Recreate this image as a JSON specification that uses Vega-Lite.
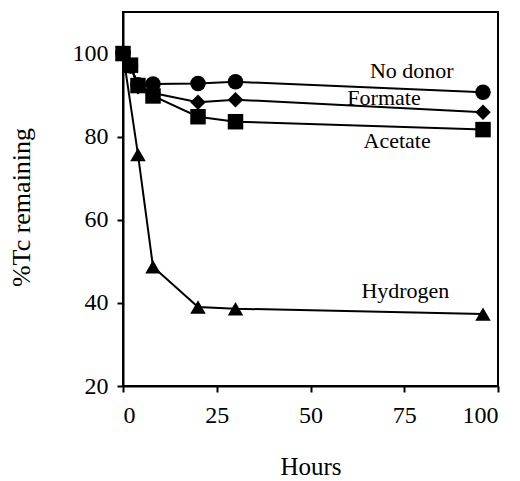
{
  "$schema": "https://vega.github.io/schema/vega-lite/v6.json",
  "width": 375,
  "height": 374,
  "autosize": "none",
  "padding": {"left": 123, "top": 12, "right": 22, "bottom": 95},
  "background": "white",
  "config": {
    "view": {"stroke": "black", "strokeWidth": 2},
    "font": "Liberation Serif",
    "axis": {
      "grid": false,
      "domainColor": "black",
      "domainWidth": 2,
      "tickColor": "black",
      "tickWidth": 2,
      "tickSize": 6,
      "labelFont": "Liberation Serif",
      "labelFontSize": 24,
      "labelColor": "black",
      "titleFont": "Liberation Serif",
      "titleFontWeight": "normal",
      "titleColor": "black"
    }
  },
  "datasets": {
    "series": [
      {"series": "No donor", "hours": 0, "pct": 100},
      {"series": "No donor", "hours": 2, "pct": 97},
      {"series": "No donor", "hours": 4, "pct": 92.5},
      {"series": "No donor", "hours": 8, "pct": 92.7},
      {"series": "No donor", "hours": 20, "pct": 92.8},
      {"series": "No donor", "hours": 30, "pct": 93.2},
      {"series": "No donor", "hours": 96, "pct": 90.7},
      {"series": "Formate", "hours": 0, "pct": 100},
      {"series": "Formate", "hours": 2, "pct": 97},
      {"series": "Formate", "hours": 4, "pct": 92},
      {"series": "Formate", "hours": 8, "pct": 90.5},
      {"series": "Formate", "hours": 20, "pct": 88.3},
      {"series": "Formate", "hours": 30, "pct": 88.9},
      {"series": "Formate", "hours": 96, "pct": 85.9},
      {"series": "Hydrogen", "hours": 0, "pct": 100},
      {"series": "Hydrogen", "hours": 4, "pct": 75.7},
      {"series": "Hydrogen", "hours": 8, "pct": 48.7},
      {"series": "Hydrogen", "hours": 20, "pct": 39},
      {"series": "Hydrogen", "hours": 30, "pct": 38.6},
      {"series": "Hydrogen", "hours": 96, "pct": 37.3},
      {"series": "Acetate", "hours": 0, "pct": 100},
      {"series": "Acetate", "hours": 2, "pct": 97.2},
      {"series": "Acetate", "hours": 4, "pct": 92.3},
      {"series": "Acetate", "hours": 8, "pct": 89.8},
      {"series": "Acetate", "hours": 20, "pct": 84.8},
      {"series": "Acetate", "hours": 30, "pct": 83.6},
      {"series": "Acetate", "hours": 96, "pct": 81.7}
    ],
    "labels": [
      {"label": "No donor", "hours": 77, "pct": 95.9},
      {"label": "Formate", "hours": 69.6, "pct": 89.2},
      {"label": "Acetate", "hours": 73.1, "pct": 79},
      {"label": "Hydrogen", "hours": 75.3, "pct": 42.8}
    ]
  },
  "layer": [
    {
      "data": {"name": "series"},
      "mark": {"type": "line", "color": "black", "strokeWidth": 2},
      "encoding": {
        "x": {"field": "hours", "type": "quantitative", "scale": {"domain": [0, 100], "nice": false},
              "axis": {"values": [0, 25, 50, 75, 100], "title": "Hours", "titleFontSize": 25, "labelPadding": 11, "titlePadding": 27}},
        "y": {"field": "pct", "type": "quantitative", "scale": {"domain": [20, 110], "nice": false, "zero": false},
              "axis": {"values": [20, 40, 60, 80, 100], "title": "%Tc remaining", "titleFontSize": 26, "titleY": 195, "labelPadding": 9, "titlePadding": 38}},
        "detail": {"field": "series", "type": "nominal"}
      }
    },
    {
      "data": {"name": "series"},
      "mark": {"type": "point", "filled": true, "color": "black", "opacity": 1, "size": 240},
      "encoding": {
        "x": {"field": "hours", "type": "quantitative"},
        "y": {"field": "pct", "type": "quantitative"},
        "shape": {"field": "series", "type": "nominal", "legend": null,
                  "scale": {"domain": ["No donor", "Formate", "Acetate", "Hydrogen"],
                            "range": ["circle", "diamond", "square", "triangle-up"]}}
      }
    },
    {
      "data": {"name": "labels"},
      "mark": {"type": "text", "font": "Liberation Serif", "fontSize": 22, "color": "black", "align": "center", "baseline": "middle"},
      "encoding": {
        "x": {"field": "hours", "type": "quantitative"},
        "y": {"field": "pct", "type": "quantitative"},
        "text": {"field": "label", "type": "nominal"}
      }
    }
  ]
}
